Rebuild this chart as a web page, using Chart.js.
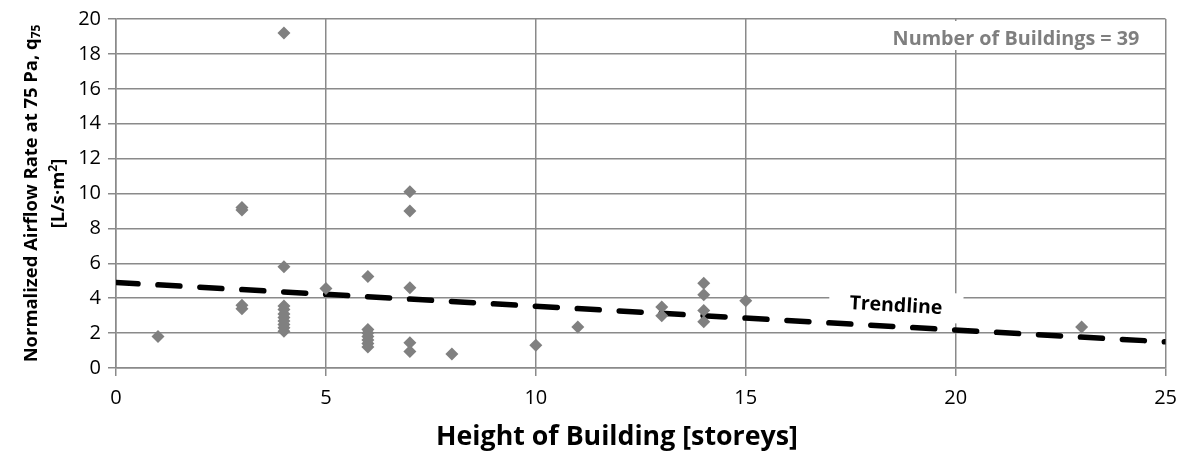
<!DOCTYPE html>
<html><head><meta charset="utf-8">
<script src="https://cdn.jsdelivr.net/npm/chart.js@4"></script>
<style>html,body{margin:0;padding:0;background:#fff}#wrap{width:1187px;height:452px}</style>
</head><body><div id="wrap"><canvas id="c" width="1187" height="452"></canvas></div>
<script>
// ---- data ----
const storeys = [1, 3, 3, 3, 3, 4, 4, 4, 4, 4, 4, 4, 4, 4, 4, 5, 6, 6, 6, 6, 6, 6, 6, 7, 7, 7, 7, 7, 8, 10, 11, 13, 13, 14, 14, 14, 14, 15, 23];
const airflow = [1.8, 9.2, 9.05, 3.6, 3.4, 19.2, 5.8, 3.55, 3.35, 3.1, 2.9, 2.7, 2.5, 2.3, 2.1, 4.55, 5.25, 2.2, 2.0, 1.8, 1.6, 1.4, 1.2, 10.1, 9.0, 4.6, 1.45, 0.95, 0.8, 1.3, 2.35, 3.5, 3.0, 4.85, 4.2, 3.3, 2.65, 3.85, 2.35];
const trendX = [0, 25];
const trendY = [4.9, 1.5];
const xTitle = 'Height of Building [storeys]';
const yTitleMain = 'Normalized Airflow Rate at 75 Pa, q';
const yTitleSub = '75';
const yTitle2a = '[L/s\u00B7m';
const yTitle2sup = '2';
const yTitle2b = ']';
const countLabel = 'Number of Buildings = 39';
const trendLabel = 'Trendline';

const FAM = '"Open Sans", sans-serif';
const GRID = '#8a8a8a';

function fit(ctx, text, target, weight) {
  ctx.font = weight + ' 100px ' + FAM;
  return 100 * target / ctx.measureText(text).width;
}

const points = storeys.map((x, i) => ({x: x, y: airflow[i]}));
const trend = trendX.map((x, i) => ({x: x, y: trendY[i]}));

const decor = {
  id: 'decor',
  beforeDatasetsDraw(chart) {
    const ctx = chart.ctx;
    const xs = chart.scales.x, ys = chart.scales.y;
    ctx.save();
    ctx.fillStyle = '#fff';
    ctx.fillRect(885, 21, 265, 29);
    let s = fit(ctx, countLabel, 247, 'bold');
    ctx.font = 'bold ' + s + 'px ' + FAM;
    ctx.fillStyle = '#7f7f7f';
    ctx.textAlign = 'center';
    ctx.textBaseline = 'middle';
    ctx.fillText(countLabel, 1016, 39);
    const ang = Math.atan2(ys.getPixelForValue(trendY[1]) - ys.getPixelForValue(trendY[0]),
                           xs.getPixelForValue(trendX[1]) - xs.getPixelForValue(trendX[0]));
    ctx.translate(896, 305);
    ctx.rotate(ang);
    ctx.fillStyle = '#fff';
    ctx.fillRect(-67, -15, 134, 30);
    s = fit(ctx, trendLabel, 93, 'bold');
    ctx.font = 'bold ' + s + 'px ' + FAM;
    ctx.fillStyle = '#000';
    ctx.fillText(trendLabel, 0, 1);
    ctx.restore();
  },
  afterDraw(chart) {
    const ctx = chart.ctx;
    const ca = chart.chartArea;
    ctx.save();
    ctx.fillStyle = '#000';
    ctx.textBaseline = 'middle';
    ctx.textAlign = 'center';
    let s = fit(ctx, xTitle, 362, 'bold');
    ctx.font = 'bold ' + s + 'px ' + FAM;
    ctx.fillText(xTitle, 617, 437);
    const cy = (ca.top + ca.bottom) / 2;
    ctx.translate(0, cy);
    ctx.rotate(-Math.PI / 2);
    ctx.textAlign = 'left';
    ctx.textBaseline = 'alphabetic';
    ctx.font = 'bold 100px ' + FAM;
    let w1 = ctx.measureText(yTitleMain).width;
    ctx.font = 'bold 65px ' + FAM;
    let w1s = ctx.measureText(yTitleSub).width;
    s = 100 * 338 / (w1 + w1s);
    ctx.font = 'bold ' + s + 'px ' + FAM;
    const mw = ctx.measureText(yTitleMain).width;
    ctx.font = 'bold ' + (s * 0.65) + 'px ' + FAM;
    const sw = ctx.measureText(yTitleSub).width;
    let x0 = -(mw + sw) / 2;
    const base1 = 37;
    ctx.font = 'bold ' + s + 'px ' + FAM;
    ctx.fillText(yTitleMain, x0, base1);
    ctx.font = 'bold ' + (s * 0.65) + 'px ' + FAM;
    ctx.fillText(yTitleSub, x0 + mw, base1 + s * 0.18);
    ctx.font = 'bold ' + s + 'px ' + FAM;
    const a = ctx.measureText(yTitle2a).width;
    const b = ctx.measureText(yTitle2b).width;
    ctx.font = 'bold ' + (s * 0.65) + 'px ' + FAM;
    const c = ctx.measureText(yTitle2sup).width;
    x0 = -(a + b + c) / 2;
    const base2 = 64;
    ctx.font = 'bold ' + s + 'px ' + FAM;
    ctx.fillText(yTitle2a, x0, base2);
    ctx.fillText(yTitle2b, x0 + a + c, base2);
    ctx.font = 'bold ' + (s * 0.65) + 'px ' + FAM;
    ctx.fillText(yTitle2sup, x0 + a, base2 - s * 0.38);
    ctx.restore();
  }
};

new Chart(document.getElementById('c'), {
  type: 'scatter',
  data: {
    datasets: [
      {
        label: 'Buildings', data: points, order: 0,
        pointStyle: 'rectRot', pointRadius: 6.5, pointBackgroundColor: '#808080',
        pointBorderWidth: 0, pointBorderColor: '#808080', showLine: false
      },
      {
        label: 'Trendline', type: 'line', data: trend, order: 1,
        borderColor: '#000', borderWidth: 5.5, borderDash: [22, 20], borderCapStyle: 'round',
        pointRadius: 0, fill: false, tension: 0
      }
    ]
  },
  options: {
    responsive: false, animation: false, devicePixelRatio: 1,
    layout: {padding: {top: 18, right: 17, left: 0, bottom: 0}},
    plugins: {legend: {display: false}, tooltip: {enabled: false}},
    scales: {
      x: {
        type: 'linear', min: 0, max: 25,
        ticks: {stepSize: 5, color: '#000', font: {family: FAM, size: 20}, padding: 10, maxRotation: 0},
        grid: {color: GRID, lineWidth: 1.5, tickLength: 8},
        border: {color: GRID, width: 1.5},
        afterFit(s) { s.height = 84; }
      },
      y: {
        min: 0, max: 20,
        ticks: {stepSize: 2, color: '#000', font: {family: FAM, size: 20}, padding: 7},
        grid: {color: GRID, lineWidth: 1.5, tickLength: 8},
        border: {color: GRID, width: 1.5},
        afterFit(s) { s.width = 116; }
      }
    }
  },
  plugins: [decor]
});
</script>
</body></html>
